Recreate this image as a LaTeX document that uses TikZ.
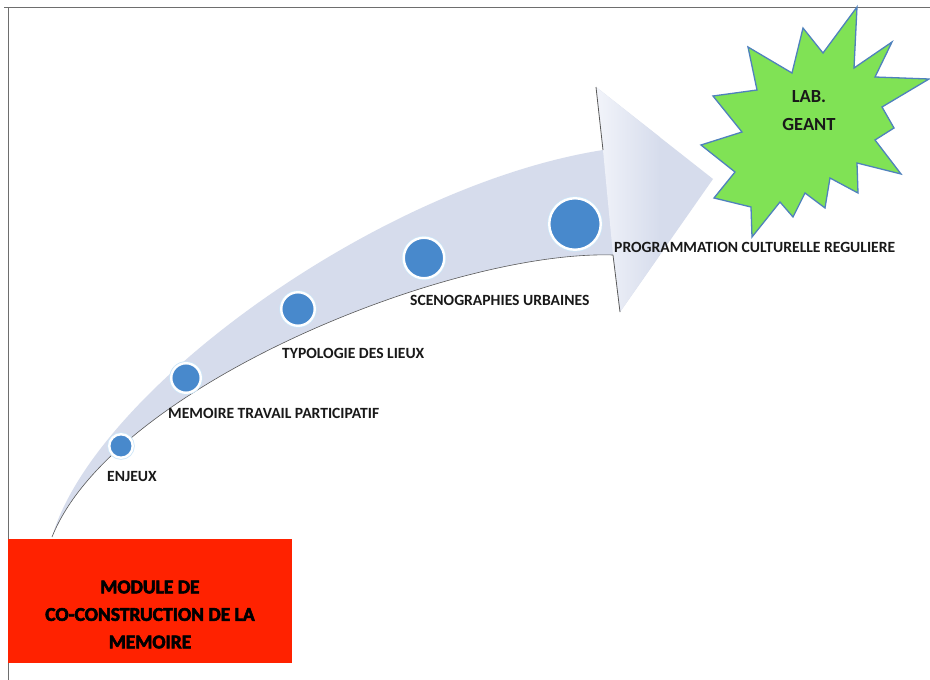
\documentclass[tikz,border=0pt]{standalone}
\usepackage{fontspec}
\setmainfont{Carlito}
\newfontfamily\heavyfont[BoldFeatures={FakeBold=3}]{Carlito}
\definecolor{redc}{RGB}{255,34,0}
\definecolor{starg}{RGB}{128,226,85}
\definecolor{starb}{RGB}{79,129,189}
\definecolor{arrowc}{RGB}{214,220,236}
\definecolor{arrowhi}{RGB}{242,244,250}
\definecolor{dotc}{RGB}{72,137,204}
\definecolor{glowc}{RGB}{205,230,248}
\definecolor{framec}{RGB}{110,110,110}
\definecolor{edgec}{RGB}{90,90,90}
\definecolor{txtc}{RGB}{25,25,25}
\tikzset{
  dot/.style={circle, inner sep=0pt, fill=dotc, draw=white, line width=2.4pt,
    preaction={draw=glowc, line width=4pt}},
  lab/.style={font=\bfseries\fontsize{15.6}{18}\selectfont, text=txtc, inner sep=0pt, anchor=base west},
}
\begin{document}
\begin{tikzpicture}[x=1pt,y=-1pt]
\useasboundingbox (0,0) rectangle (930,680);
\fill[white] (0,0) rectangle (930,680);
\draw[framec, line width=1pt] (4,7) -- (930,7);
\draw[framec, line width=1pt] (8,7) -- (8,680);
% arrow
\fill[arrowc] (52,537) .. controls (95,390) and (380,185) .. (603,150) -- (596,87) -- (713,179) -- (620,312) -- (613,255) .. controls (450,250) and (112,387) .. (52,537) -- cycle;
\begin{scope}
\clip (596,87) -- (713,179) -- (620,312) -- (613,255) -- (603,150) -- cycle;
\shade[left color=arrowhi, right color=arrowc] (596,80) rectangle (660,320);
\end{scope}
\draw[edgec, line width=0.6pt] (613,255) .. controls (450,250) and (112,387) .. (52,537);
\draw[edgec, line width=0.8pt] (596,87) -- (603,150);
\draw[edgec, line width=0.8pt] (613,255) -- (620,312);
% dots
\node[dot, minimum size=23.5] (c1) at (121,446) {};
\node[dot, minimum size=29.5] (c2) at (186,378) {};
\node[dot, minimum size=33.5] (c3) at (298,309) {};
\node[dot, minimum size=40.5] (c4) at (424,258) {};
\node[dot, minimum size=51.5] (c5) at (575,224) {};
% labels
\node[lab] (l1) at (107,481) {ENJEUX};
\node[lab] (l2) at (168,418) {MEMOIRE TRAVAIL PARTICIPATIF};
\node[lab] (l3) at (282,358) {TYPOLOGIE DES LIEUX};
\node[lab] (l4) at (410,305) {SCENOGRAPHIES URBAINES};
\node[lab] (l5) at (614,252) {PROGRAMMATION CULTURELLE REGULIERE};
% star
\filldraw[fill=starg, draw=starb, line width=1.3pt, line join=miter]
  (701,145) -- (742,132) -- (713,96) -- (757,90) -- (748,47) -- (792,73) -- (803,28)
  -- (823,53) -- (857,7) -- (854,68) -- (892,42) -- (875,77) -- (929,79) -- (882,107)
  -- (894,128) -- (875,140) -- (901,174) -- (857,163) -- (858,193) -- (830,178)
  -- (825,208) -- (805,193) -- (793,217) -- (780,202) -- (752,237) -- (751,207)
  -- (714,198) -- (735,172) -- cycle;
\node[align=center, text=txtc, inner sep=0pt, font=\bfseries\fontsize{18.5}{28}\selectfont] (lab) at (809,111) {LAB.\\GEANT};
% red box
\node[fill=redc, minimum width=284, minimum height=124, inner sep=0pt, anchor=north west] (box) at (8,539) {};
\node[align=center, text=black, inner sep=0pt, font=\heavyfont\bfseries\fontsize{19.5}{27.5}\selectfont] (mod) at (150,614.5) {MODULE DE\\CO-CONSTRUCTION DE LA\\MEMOIRE};
\end{tikzpicture}
\end{document}
